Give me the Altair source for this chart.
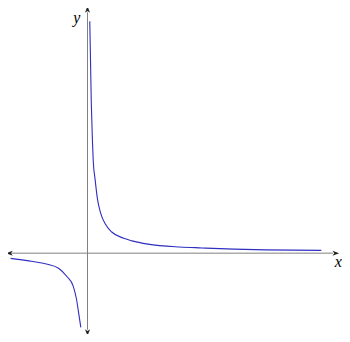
import altair as alt
import pandas as pd

# Right branch (x > 0)
right_x = [0.12, 0.2, 0.26, 0.3, 0.4, 0.52, 0.685, 0.935, 1.27, 1.9, 2.335, 3.17, 4.835, 6.0, 7.67, 9.335, 12.25]
right_y = [12.16, 7.86, 5.86, 4.86, 3.86, 2.86, 2.11, 1.525, 1.11, 0.78, 0.645, 0.475, 0.325, 0.275, 0.21, 0.175, 0.145]
# Left branch (x < 0)
left_x = [-4.03, -3.165, -2.165, -1.5, -1.08, -0.75, -0.58, -0.45, -0.35]
left_y = [-0.275, -0.39, -0.57, -0.805, -1.225, -1.725, -2.39, -3.225, -3.89]

# axis extents
x_axis_ends = [-4.09, 13.01]
y_axis_ends = [-4.165, 12.785]
axis_labels = ["x", "y"]

X_DOMAIN = [-4.165, 13.335]
Y_DOMAIN = [-4.24, 12.86]

xs = alt.Scale(domain=X_DOMAIN, nice=False, zero=False)
ys = alt.Scale(domain=Y_DOMAIN, nice=False, zero=False)

curve_df = pd.DataFrame(
    {"x": right_x + left_x,
     "y": right_y + left_y,
     "branch": ["right"] * len(right_x) + ["left"] * len(left_x),
     "order": list(range(len(right_x))) + list(range(len(left_x)))}
)

axes_df = pd.DataFrame({
    "x": [x_axis_ends[0], 0.0],
    "x2": [x_axis_ends[1] - 0.15, 0.0],
    "y": [0.0, y_axis_ends[0] + 0.15],
    "y2": [0.0, y_axis_ends[1] - 0.15],
})

arrow_df = pd.DataFrame({
    "x": [x_axis_ends[1], x_axis_ends[0], 0.0, 0.0],
    "y": [0.0, 0.0, y_axis_ends[1], y_axis_ends[0]],
    "angle": [0, 180, 270, 90],
})

label_df = pd.DataFrame({
    "x": [13.135, -0.565],
    "y": [-0.44, 12.35],
    "t": axis_labels,
})

axes = alt.Chart(axes_df).mark_rule(color="#808080", strokeWidth=1).encode(
    x=alt.X("x:Q", scale=xs, axis=None),
    x2="x2:Q",
    y=alt.Y("y:Q", scale=ys, axis=None),
    y2="y2:Q",
)

arrow_path = "M 1 0 L -1 -0.75 L -0.45 0 L -1 0.75 Z"
arrows = alt.Chart(arrow_df).mark_point(
    shape=arrow_path, filled=True, color="#222222", size=45, opacity=1
).encode(
    x=alt.X("x:Q", scale=xs, axis=None),
    y=alt.Y("y:Q", scale=ys, axis=None),
    angle=alt.Angle("angle:Q", scale=None),
)

curves = alt.Chart(curve_df).mark_line(
    color="#2e2ec0", strokeWidth=1.1, interpolate="monotone"
).encode(
    x=alt.X("x:Q", scale=xs, axis=None),
    y=alt.Y("y:Q", scale=ys, axis=None),
    detail="branch:N",
    order="order:Q",
)

labels = alt.Chart(label_df).mark_text(
    font="Liberation Serif", fontStyle="italic", fontSize=16, color="black",
    align="center", baseline="middle"
).encode(
    x=alt.X("x:Q", scale=xs, axis=None),
    y=alt.Y("y:Q", scale=ys, axis=None),
    text="t:N",
)

chart = alt.layer(axes, curves, arrows, labels).properties(
    width=334, height=326, padding=0,
    autosize=alt.AutoSizeParams(type="none"),
).configure_view(stroke=None)

chart.save("out.html", embed_options={"renderer": "svg", "actions": False})
